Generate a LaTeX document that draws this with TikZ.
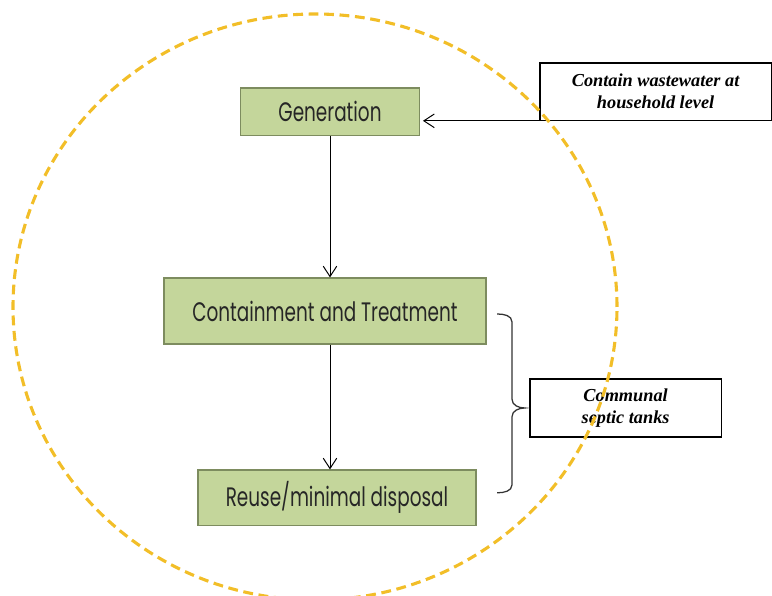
\documentclass[tikz,border=0pt]{standalone}
\usepackage{fontspec}
\usetikzlibrary{arrows.meta}
\newfontfamily\gothic[FakeStretch=0.69]{Poppins}
\newfontfamily\notes{Liberation Serif}
\definecolor{stagefill}{RGB}{196,214,155}
\definecolor{stageline}{RGB}{125,140,95}
\definecolor{ringgold}{RGB}{242,190,40}

\begin{document}
\begin{tikzpicture}[
  stage/.style={draw=stageline, fill=stagefill, line width=0.8pt, text=black!85, font=\gothic\fontsize{19}{22}\selectfont},
  note/.style={draw, line width=0.9pt, fill=white, align=center, font=\notes\bfseries\itshape\fontsize{13}{15.6}\selectfont},
  flow/.style={-{Straight Barb[length=2.6mm,width=3.4mm]}, line width=0.7pt}
]
  \clip (0,0) rectangle (19.3,14.9);
  \node[stage, minimum width=4.48cm, minimum height=1.18cm] (gen) at (8.25,12.11) {Generation};
  \node[stage, minimum width=8.05cm, minimum height=1.65cm] (cont) at (8.125,7.125) {Containment and Treatment};
  \node[stage, minimum width=6.95cm, minimum height=1.38cm] (reuse) at (8.425,2.46) {Reuse/minimal disposal};
  \node[note, minimum width=5.78cm, minimum height=1.43cm] (house) at (16.39,12.61) {Contain wastewater at\\household level};
  \node[note, minimum width=4.78cm, minimum height=1.45cm] (septic) at (15.64,4.7) {Communal\\septic tanks};
  \draw[flow] (gen.south) -- (gen.south |- cont.north);
  \draw[flow] (gen.south |- cont.south) -- (gen.south |- reuse.north);
  \draw[flow, shorten >=2pt] (house.south east) -- (house.south -| gen.east);
  % brace
  \draw[line width=0.9pt, black!80] (12.43,7.05) to[out=0,in=90] (12.8,6.85) -- (12.8,4.92)
    to[out=-90,in=180] (13.12,4.7) to[out=180,in=90] (12.8,4.48) -- (12.8,2.78) to[out=-90,in=0] (12.43,2.58);
  \draw[ringgold, line width=2.2pt, dash pattern=on 7pt off 4pt] (7.875,7.225) ellipse [x radius=7.55, y radius=7.325];
\end{tikzpicture}
\end{document}
